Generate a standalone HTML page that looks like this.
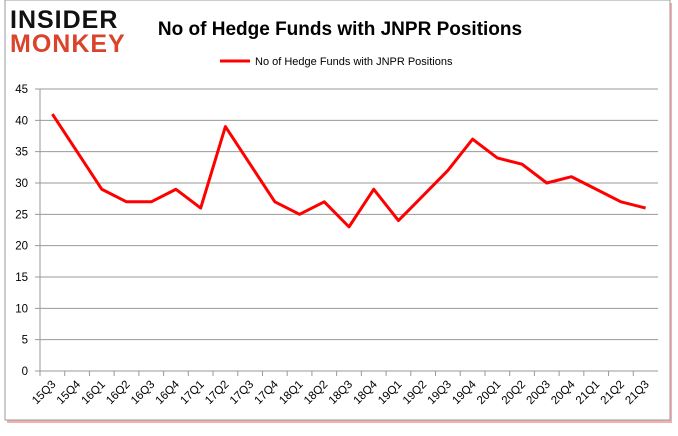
<!DOCTYPE html>
<html><head><meta charset="utf-8"><style>
body{margin:0;background:#fff;width:678px;height:431px;overflow:hidden;font-family:"Liberation Sans",sans-serif}
</style></head><body>
<svg width="678" height="431">
<rect x="7" y="3" width="665" height="420" fill="#f4b0b0"/>
<rect x="5" y="0" width="665" height="420" fill="#fff" stroke="#999"/>
<text x="10" y="28" font-size="25" font-weight="bold" fill="#111" letter-spacing="1">INSIDER</text>
<text x="10" y="52" font-size="25" font-weight="bold" fill="#d9442b" letter-spacing="1">MONKEY</text>
<text x="340" y="35" font-size="19" font-weight="bold" text-anchor="middle" fill="#000">No of Hedge Funds with JNPR Positions</text>
<line x1="220" y1="61" x2="250" y2="61" stroke="#f00" stroke-width="3"/>
<text x="255" y="65" font-size="11" fill="#000">No of Hedge Funds with JNPR Positions</text>
<g id="g"></g>
</svg>
<script>
const categories=["15Q3","15Q4","16Q1","16Q2","16Q3","16Q4","17Q1","17Q2","17Q3","17Q4","18Q1","18Q2","18Q3","18Q4","19Q1","19Q2","19Q3","19Q4","20Q1","20Q2","20Q3","20Q4","21Q1","21Q2","21Q3"];
const values=[41,35,29,27,27,29,26,39,33,27,25,27,23,29,24,28,32,37,34,33,30,31,29,27,26];
const yTicks=[0,5,10,15,20,25,30,35,40,45];
const ns="http://www.w3.org/2000/svg",g=document.getElementById('g');
const L=40,R=658,T=89,B=371,step=(R-L)/categories.length;
const y=v=>B-(v/45)*(B-T), x=i=>L+step*(i+0.5);
function mk(t,a){const e=document.createElementNS(ns,t);for(const k in a)e.setAttribute(k,a[k]);g.appendChild(e);return e;}
yTicks.forEach(v=>{
 const l=mk('line',{x1:L-5,x2:R,y1:y(v),y2:y(v),stroke:'#999'});
 
 
 const t=mk('text',{x:L-12,y:y(v)+4,'font-size':11.5,'text-anchor':'end'});t.textContent=v;
 
 
});
const ax=mk('line',{x1:L,x2:L,y1:T,y2:B,stroke:'#999'});


categories.forEach((c,i)=>{
 const tk=mk('line',{x1:L+step*i,x2:L+step*i,y1:B,y2:B+5,stroke:'#999'});
 
 
 const t=mk('text',{x:x(i)+4,y:B+14,'font-size':11.5,'text-anchor':'end',transform:`rotate(-45 ${x(i)+4} ${B+14})`});t.textContent=c;
 
 
});
const p=mk('polyline',{points:values.map((v,i)=>x(i)+','+y(v)).join(' '),fill:'none',stroke:'#f00','stroke-width':3,'stroke-linejoin':'round'});


</script>
</body></html>
